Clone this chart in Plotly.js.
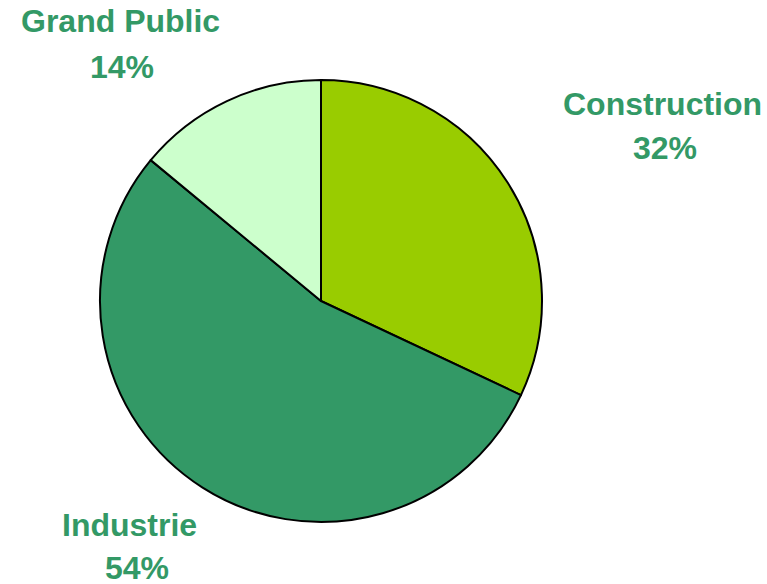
<!DOCTYPE html>
<html>
<head>
<meta charset="utf-8">
<script src="https://cdn.plot.ly/plotly-3.0.1.min.js"></script>
<style>html,body{margin:0;padding:0;background:#fff;}#chart{width:767px;height:584px;}</style>
</head>
<body>
<div id="chart"></div>
<script>
var categories = ["Construction", "Industrie", "Grand Public"];
var values = [32, 54, 14];
var percentLabels = ["32%", "54%", "14%"];
var sliceColors = ["#99CC00", "#339966", "#CCFFCC"];

// label placement (paper coords) for name line and percent line
var namePos = [[662/767, 1 - 104/584], [129/767, 1 - 525/584], [120/767, 1 - 21/584]];
var pctPos = [[665/767, 1 - 148/584], [137/767, 1 - 568/584], [122/767, 1 - 67/584]];

var labelFont = {family: "Liberation Sans, Arial, sans-serif", size: 32, color: "#339966", weight: 700};

var annotations = [];
categories.forEach(function (c, i) {
  annotations.push({text: "<b>" + c + "</b>", x: namePos[i][0], y: namePos[i][1], xref: "paper", yref: "paper",
    xanchor: "center", yanchor: "middle", showarrow: false, font: labelFont});
  annotations.push({text: "<b>" + percentLabels[i] + "</b>", x: pctPos[i][0], y: pctPos[i][1], xref: "paper", yref: "paper",
    xanchor: "center", yanchor: "middle", showarrow: false, font: labelFont});
});

var trace = {
  type: "pie",
  labels: categories,
  values: values,
  sort: false,
  direction: "clockwise",
  rotation: 0,
  textinfo: "none",
  hoverinfo: "label+percent",
  marker: {colors: sliceColors, line: {color: "#000000", width: 2}},
  domain: {x: [100/767, 542/767], y: [(584-522)/584, (584-80)/584]},
  showlegend: false
};

var layout = {
  width: 767, height: 584,
  margin: {l: 0, r: 0, t: 0, b: 0},
  paper_bgcolor: "#ffffff",
  showlegend: false,
  annotations: annotations
};

Plotly.newPlot("chart", [trace], layout, {displayModeBar: false, staticPlot: true});
</script>
</body>
</html>
